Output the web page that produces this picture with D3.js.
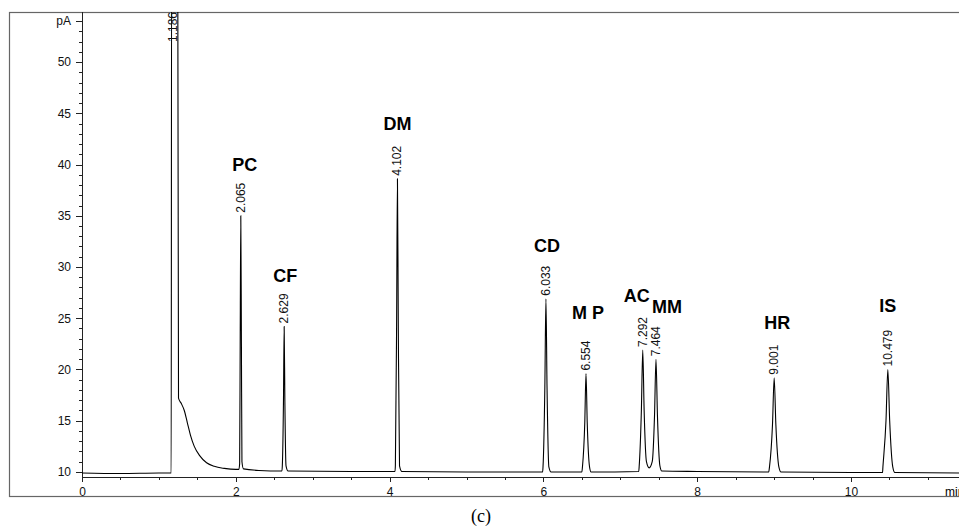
<!DOCTYPE html>
<html>
<head>
<meta charset="utf-8">
<script src="https://cdn.jsdelivr.net/npm/d3@7"></script>
<style>
    body { margin: 0; background: #fff; }
    #chart { width: 959px; height: 531px; overflow: hidden; }
    .axis text { font-family: Arial, "Liberation Sans", sans-serif; font-size: 12px; fill: #111; }
    .axis path, .axis line { stroke: #222; shape-rendering: crispEdges; }
    .rt-label { font-family: Arial, "Liberation Sans", sans-serif; font-size: 12px; fill: #111; }
    .name-label { font-family: Arial, "Liberation Sans", sans-serif; font-size: 18px; font-weight: bold; fill: #000; }
</style>
</head>
<body>
<div id="chart"></div>
<script>

// peak table
const peakTimes   = [1.186, 2.065, 2.629, 4.102, 6.033, 6.554, 7.292, 7.464, 9.001, 10.479];
const peakHeights = [60, 35.0, 24.2, 38.6, 26.9, 19.6, 21.9, 21.0, 19.2, 20.0];
const peakNames   = ["", "PC", "CF", "DM", "CD", "M P", "AC", "MM", "HR", "IS"];

// axis ticks
const xMajorTicks = [0, 2, 4, 6, 8, 10, 12];
const yMajorTicks = [10, 15, 20, 25, 30, 35, 40, 45, 50];

// detector trace [min, pA]
const trace = [
    [0, 9.9], [0.5, 9.85], [1.0, 9.9], [1.16, 9.9], [1.165, 60], [1.245, 60], [1.255, 17.2],
    [1.29, 16.7], [1.33, 16.0], [1.37, 14.8], [1.41, 13.6], [1.46, 12.5], [1.53, 11.6],
    [1.62, 10.9], [1.72, 10.55], [1.85, 10.35], [2.0, 10.25], [2.04, 10.25],
    [2.05, 10.8], [2.057, 22.5], [2.065, 35.0], [2.073, 22.5], [2.08, 11.0], [2.1, 10.3],
    [2.3, 10.15], [2.6, 10.1],
    [2.605, 10.6], [2.62, 17.0], [2.629, 24.2], [2.638, 17.0], [2.653, 10.6], [2.68, 10.1],
    [3.5, 10.05], [4.07, 10.05],
    [4.075, 10.6], [4.091, 24.3], [4.102, 38.6], [4.113, 24.3], [4.129, 10.6], [4.16, 10.05],
    [5.0, 10.0], [5.99, 10.0],
    [5.995, 10.5], [6.019, 18.4], [6.033, 26.9], [6.047, 18.4], [6.071, 10.5], [6.1, 10.0],
    [6.5, 10.0],
    [6.508, 10.5], [6.538, 14.8], [6.554, 19.6], [6.570, 14.8], [6.600, 10.5], [6.62, 10.0],
    [7.24, 10.05],
    [7.245, 10.5], [7.274, 16.0], [7.292, 21.9], [7.310, 16.0], [7.34, 11.0], [7.375, 10.4],
    [7.415, 11.0], [7.445, 15.5], [7.464, 21.0], [7.483, 15.5], [7.515, 10.6], [7.54, 10.1],
    [8.0, 10.05], [8.93, 10.0],
    [8.94, 10.5], [8.979, 14.6], [9.001, 19.2], [9.023, 14.6], [9.062, 10.5], [9.09, 10.0],
    [10.0, 9.95], [10.41, 9.95],
    [10.415, 10.5], [10.455, 15.0], [10.479, 20.0], [10.503, 15.0], [10.543, 10.5], [10.57, 9.95],
    [11.5, 9.9], [12, 9.9]
];

// label placement (pixels, relative to peak apex)
const nameDx = [0, 4, 1, 0, 1, 2, -6, 11, 3, 0];
const nameDy = [0, -51, -51, -55, -53, -61, -55, -53, -55, -64];


class Chromatogram {

    constructor(_parentElement) {
        this.parentElement = _parentElement;
        this.initVis();
    }

    initVis() {
        let vis = this;

        vis.width = 959;
        vis.height = 531;

        vis.svg = d3.select("#" + vis.parentElement).append("svg")
            .attr("width", vis.width)
            .attr("height", vis.height);

        // plot area: y axis at x=82, x axis at y=477, top at y=12
        vis.x = d3.scaleLinear().domain([0, 12]).range([82, 82 + 12 * 76.9]);
        vis.y = d3.scaleLinear().domain([9.51, 54.88]).range([477, 12]);

        // outer frame
        vis.svg.append("rect")
            .attr("x", 9.5).attr("y", 12.5)
            .attr("width", 1100).attr("height", 484)
            .attr("fill", "none")
            .attr("stroke", "#666")
            .attr("stroke-width", 1.2);

        vis.svg.append("clipPath").attr("id", "plot-clip")
            .append("rect")
            .attr("x", 82).attr("y", 12)
            .attr("width", vis.width - 82).attr("height", 465);

        vis.updateVis();
    }

    updateVis() {
        let vis = this;

        // minor ticks
        vis.svg.append("g")
            .attr("class", "axis")
            .attr("transform", "translate(0,477)")
            .call(d3.axisBottom(vis.x).tickValues(d3.range(0, 12.5, 0.5)).tickSize(3).tickFormat(""))
            .select(".domain").remove();

        vis.svg.append("g")
            .attr("class", "axis")
            .attr("transform", "translate(82,0)")
            .call(d3.axisLeft(vis.y).tickValues(d3.range(10, 55, 1)).tickSize(3).tickFormat(""))
            .select(".domain").remove();

        // major axes
        vis.xAxis = d3.axisBottom(vis.x)
            .tickValues(xMajorTicks)
            .tickSize(5)
            .tickPadding(5.5)
            .tickFormat(d3.format("d"));

        vis.svg.append("g")
            .attr("class", "x-axis axis")
            .attr("transform", "translate(0,477)")
            .call(vis.xAxis)
            .select(".domain").attr("d", "M82,0H1100");

        vis.yAxis = d3.axisLeft(vis.y)
            .tickValues(yMajorTicks.concat([54]))
            .tickSize(6)
            .tickPadding(5)
            .tickFormat(d => d === 54 ? "pA" : d);

        vis.svg.append("g")
            .attr("class", "y-axis axis")
            .attr("transform", "translate(82,0)")
            .call(vis.yAxis)
            .select(".domain").attr("d", "M0,12V477");

        // "min" unit at right end of x axis
        vis.svg.append("text")
            .attr("class", "axis")
            .attr("x", 945)
            .attr("y", 496)
            .style("font-family", "Arial, 'Liberation Sans', sans-serif")
            .style("font-size", "12px")
            .text("min");

        // signal trace
        let line = d3.line()
            .x(d => vis.x(d[0]))
            .y(d => vis.y(d[1]))
            .curve(d3.curveMonotoneX);

        vis.svg.append("path")
            .datum(trace)
            .attr("clip-path", "url(#plot-clip)")
            .attr("fill", "none")
            .attr("stroke", "#000")
            .attr("stroke-width", 1.1)
            .attr("d", line);

        // retention time labels
        vis.svg.selectAll(".rt-label")
            .data(peakTimes)
            .enter().append("text")
            .attr("class", "rt-label")
            .attr("transform", (d, i) => {
                let yy = Math.max(vis.y(peakHeights[i]) - 3, 42);
                return "translate(" + (vis.x(d) + 4) + "," + yy + ") rotate(-90)";
            })
            .attr("text-anchor", "start")
            .text(d => d3.format(".3f")(d));

        // compound names
        vis.svg.selectAll(".name-label")
            .data(peakTimes)
            .enter().append("text")
            .attr("class", "name-label")
            .attr("x", (d, i) => vis.x(d) + nameDx[i])
            .attr("y", (d, i) => vis.y(peakHeights[i]) + nameDy[i] + 6.5)
            .attr("text-anchor", "middle")
            .text((d, i) => peakNames[i]);

        // panel caption
        vis.svg.append("text")
            .attr("x", 481)
            .attr("y", 522)
            .attr("text-anchor", "middle")
            .style("font-family", "'Liberation Serif', 'Times New Roman', serif")
            .style("font-size", "18px")
            .text("(c)");
    }
}

let chromatogram = new Chromatogram("chart");

</script>
</body>
</html>
